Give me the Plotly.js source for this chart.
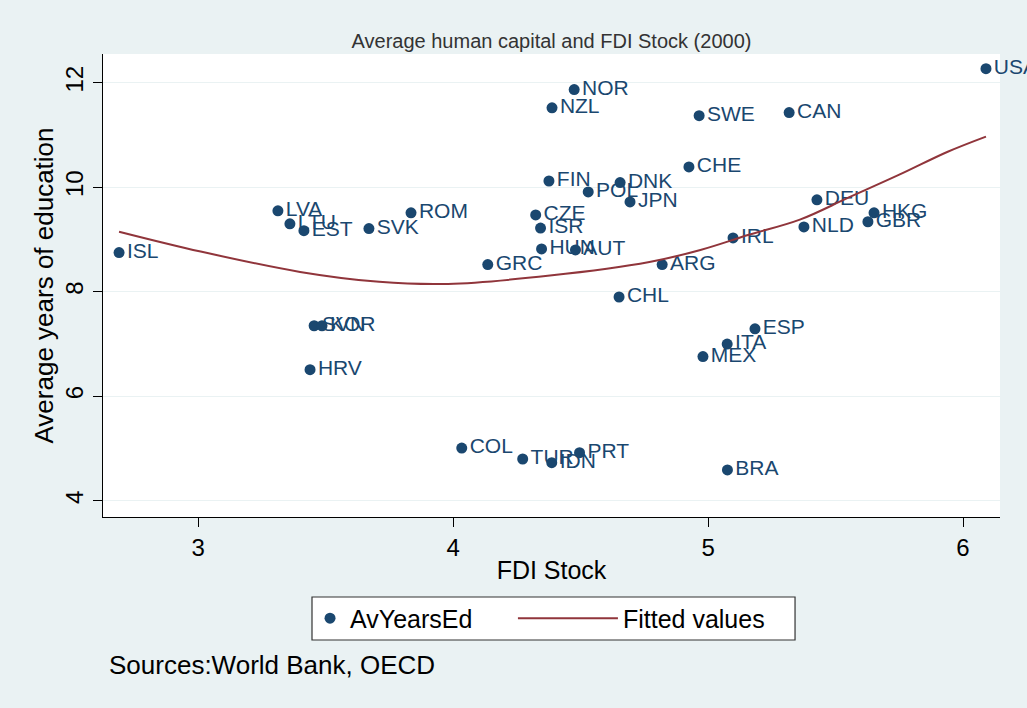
<!DOCTYPE html>
<html>
<head>
<meta charset="utf-8">
<script src="https://cdn.plot.ly/plotly-3.0.1.min.js"></script>
<style>html,body{margin:0;padding:0;background:#eaf2f3;}#chart{width:1027px;height:708px;}</style>
</head>
<body>
<div id="chart"></div>
<script>
const countries = ["USA","NOR","NZL","SWE","CAN","CHE","FIN","POL","DNK","JPN","DEU","HKG","GBR","NLD","IRL","ARG","CHL","ESP","ITA","MEX","BRA","PRT","IDN","TUR","COL","GRC","HUN","AUT","ISR","CZE","ROM","SVK","LVA","LTU","EST","ISL","SVN","KOR","HRV"];
const fdiStock = [6.09,4.475,4.388,4.965,5.318,4.925,4.376,4.53,4.655,4.694,5.427,5.651,5.627,5.376,5.098,4.82,4.651,5.184,5.075,4.98,5.076,4.496,4.387,4.273,4.034,4.136,4.347,4.48,4.343,4.324,3.835,3.67,3.313,3.36,3.415,2.69,3.455,3.486,3.439];
const avYearsEd = [12.27,11.87,11.52,11.37,11.43,10.39,10.12,9.91,10.09,9.72,9.76,9.51,9.34,9.24,9.03,8.52,7.90,7.29,7.00,6.76,4.59,4.92,4.73,4.80,5.01,8.52,8.82,8.80,9.22,9.47,9.51,9.21,9.55,9.30,9.17,8.75,7.35,7.35,6.51];
const fitX = [2.69,3.01,3.4,3.71,3.98,4.38,4.77,4.97,5.16,5.36,5.55,5.75,5.94,6.09];
const fitY = [9.15,8.77,8.38,8.19,8.15,8.31,8.57,8.80,9.09,9.38,9.80,10.24,10.68,10.97];
const xTicks = [3,4,5,6];
const yTicks = [4,6,8,10,12];

const font = "Liberation Sans, Arial, sans-serif";
const traces = [
  {
    type: "scatter", mode: "markers+text", name: "AvYearsEd", legend: "legend",
    x: fdiStock, y: avYearsEd, text: countries,
    textposition: "middle right",
    textfont: {family: font, size: 21, color: "#1a476f"},
    marker: {color: "#1a476f", size: 11},
    cliponaxis: false
  },
  {
    type: "scatter", mode: "lines", name: "Fitted values", legend: "legend2",
    x: fitX, y: fitY,
    line: {color: "#90353b", width: 2, shape: "spline"}
  }
];
const legendCommon = {
  orientation: "h", yanchor: "middle", y: -0.219, xanchor: "left",
  bgcolor: "rgba(0,0,0,0)", borderwidth: 0,
  font: {family: font, size: 25, color: "#000"}
};
const layout = {
  width: 1027, height: 708,
  paper_bgcolor: "#eaf2f3", plot_bgcolor: "#ffffff",
  margin: {l: 103, r: 27, t: 54, b: 191},
  font: {family: font, color: "#000"},
  title: {text: "Average human capital and FDI Stock (2000)", font: {family: font, size: 20, color: "#333"}, xref: "paper", x: 0.5, xanchor: "center", y: 0.942, yanchor: "middle"},
  xaxis: {
    range: [2.627, 6.145], tickvals: xTicks, ticktext: xTicks.map(String),
    ticks: "outside", ticklen: 9, tickcolor: "#000", tickfont: {size: 24},
    showline: true, linecolor: "#000", linewidth: 1, showgrid: false, zeroline: false,
    title: {text: "FDI Stock", font: {size: 25}, standoff: 1}
  },
  yaxis: {
    range: [3.69, 12.55], tickvals: yTicks, ticktext: yTicks.map(String),
    ticks: "outside", ticklen: 9, tickcolor: "#000", tickfont: {size: 24}, tickangle: -90,
    showline: true, linecolor: "#000", linewidth: 1, showgrid: true, gridcolor: "#eaf2f3", zeroline: false,
    title: {text: "Average years of education", font: {size: 26}, standoff: 0}
  },
  legend: Object.assign({}, legendCommon, {x: 0.2308}),
  legend2: Object.assign({}, legendCommon, {x: 0.457, itemwidth: 100}),
  showlegend: true,
  shapes: [
    {type: "rect", xref: "paper", yref: "paper", x0: 0.233, x1: 0.7715, y0: -0.2657, y1: -0.1728,
     fillcolor: "#ffffff", line: {color: "#333", width: 1.2}, layer: "above"}
  ],
  annotations: [
    {text: "Sources:World Bank, OECD", xref: "paper", yref: "paper", x: 0.005, y: -0.32, xanchor: "left", yanchor: "middle", showarrow: false, font: {size: 26, color: "#000"}}
  ]
};
Plotly.newPlot("chart", traces, layout, {displayModeBar: false});
</script>
</body>
</html>
